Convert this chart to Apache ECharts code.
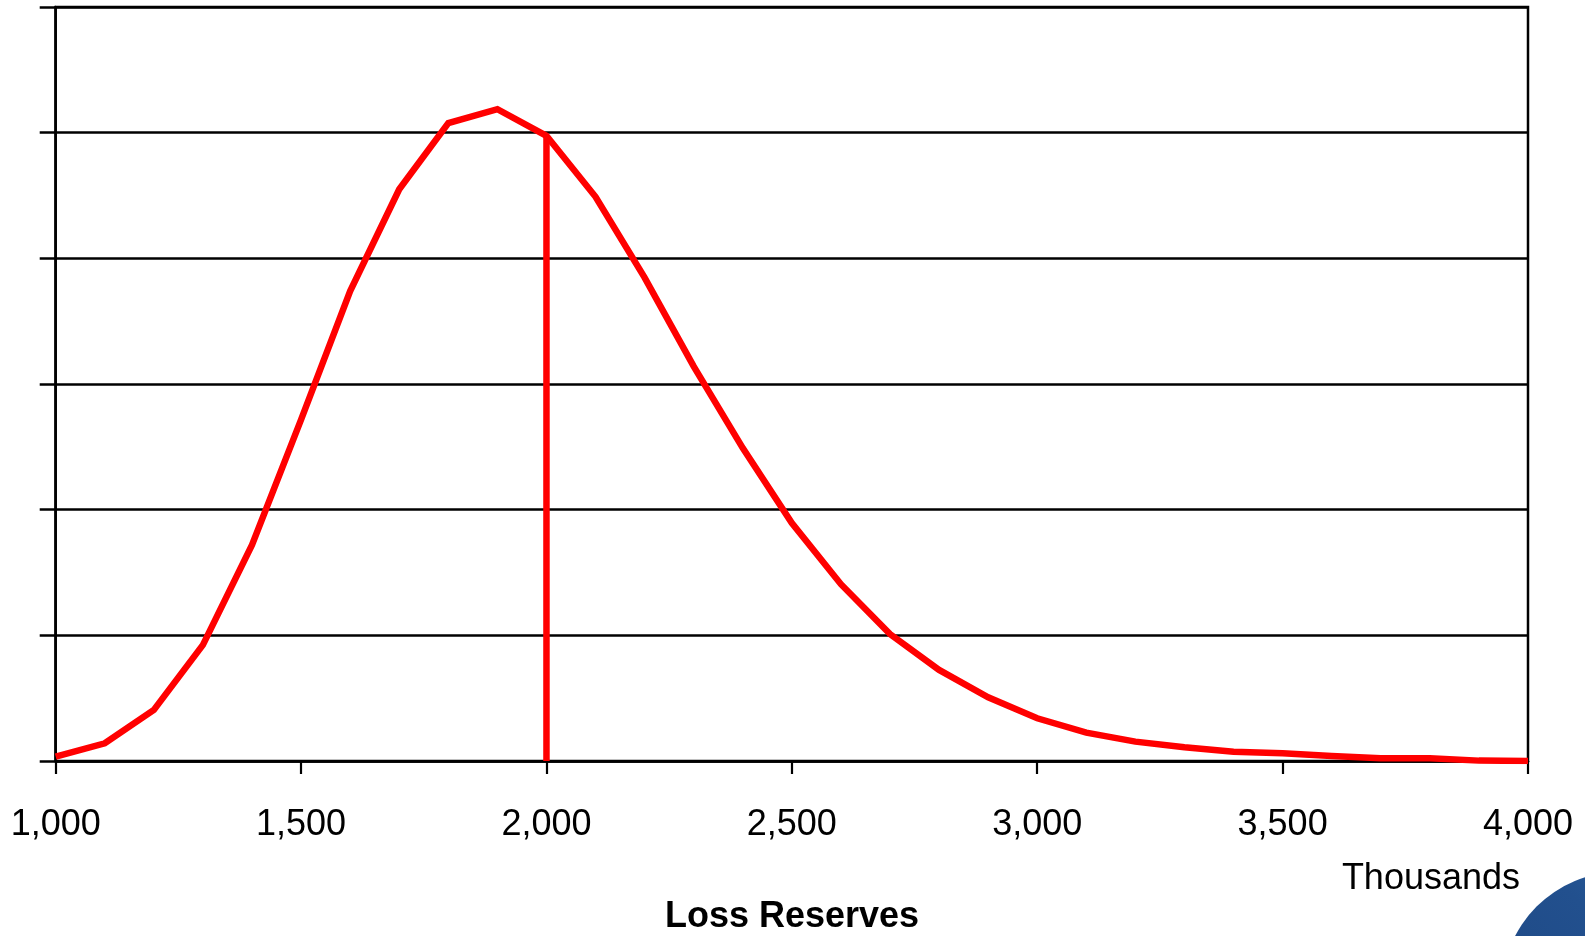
<!DOCTYPE html>
<html>
<head>
<meta charset="utf-8">
<script src="https://cdn.jsdelivr.net/npm/echarts@6/dist/echarts.min.js"></script>
<style>
html,body{margin:0;padding:0;background:#fff;}
#chart{width:1585px;height:936px;}
</style>
</head>
<body>
<div id="chart"></div>
<script>
// Loss reserves (thousands) and relative density
var reserves = [1000,1100,1200,1300,1400,1500,1600,1700,1800,1900,2000,2100,2200,2300,2400,2500,2600,2700,2800,2900,3000,3100,3200,3300,3400,3500,3600,3700,3800,3900,4000];
var density  = [0.034,0.141,0.406,0.924,1.72,2.717,3.74,4.55,5.076,5.187,4.975,4.49,3.846,3.14,2.49,1.894,1.407,1.01,0.725,0.507,0.34,0.226,0.154,0.109,0.074,0.061,0.040,0.021,0.021,0.003,0.0];
var markerReserve = 2000;
var markerIndex = 10;
var xTicks = [1000,1500,2000,2500,3000,3500,4000];
var unitLabel = 'Thousands';
var axisTitle = 'Loss Reserves';

var curve = reserves.map(function(x,i){return [x,density[i]];});
var vline = [[markerReserve,0],[markerReserve,density[markerIndex]]];
var FONT = '"Liberation Sans", Arial, Helvetica, sans-serif';

var chart = echarts.init(document.getElementById('chart'), null, {renderer:'canvas'});
chart.setOption({
  animation:false,
  backgroundColor:'#ffffff',
  grid:{left:55.7, right:57, top:7, bottom:175, containLabel:false,
        show:true, borderColor:'#000', borderWidth:2.5, backgroundColor:'transparent'},
  xAxis:{
    type:'value', min:1000, max:4000, interval:500,
    axisLine:{show:true, onZero:false, lineStyle:{color:'#000', width:2.5}},
    axisTick:{show:true, length:13, lineStyle:{color:'#000', width:2.2}},
    splitLine:{show:false},
    axisLabel:{color:'#000', fontSize:36, fontFamily:FONT, margin:46,
      formatter:function(v){return v.toLocaleString('en-US');}}
  },
  yAxis:{
    type:'value', min:0, max:6, interval:1,
    axisLine:{show:true, lineStyle:{color:'#000', width:2.5}},
    axisTick:{show:true, length:16, lineStyle:{color:'#000', width:2.5}},
    axisLabel:{show:false},
    splitLine:{show:true, lineStyle:{color:'#000', width:2.5}}
  },
  series:[
    {type:'line', data:curve, showSymbol:false, symbol:'none',
     lineStyle:{color:'#ff0000', width:6.5, join:'miter'}, z:5},
    {type:'line', data:vline, showSymbol:false, symbol:'none',
     lineStyle:{color:'#ff0000', width:6.5}, z:4}
  ],
  graphic:[
    {type:'text', x:1520, y:879, z:10,
     style:{text:unitLabel, fill:'#000', font:'36px '+FONT, textAlign:'right', textVerticalAlign:'middle'}},
    {type:'text', x:792, y:917, z:10,
     style:{text:axisTitle, fill:'#000', font:'bold 36px '+FONT, textAlign:'center', textVerticalAlign:'middle'}},
    {type:'circle', shape:{cx:1620, cy:990, r:118}, z:1,
     style:{fill:new echarts.graphic.LinearGradient(0,1,1,0,[
       {offset:0,color:'#1c4580'},{offset:0.6,color:'#22508e'},{offset:1,color:'#2d64a3'}])}}
  ]
});
</script>
</body>
</html>
